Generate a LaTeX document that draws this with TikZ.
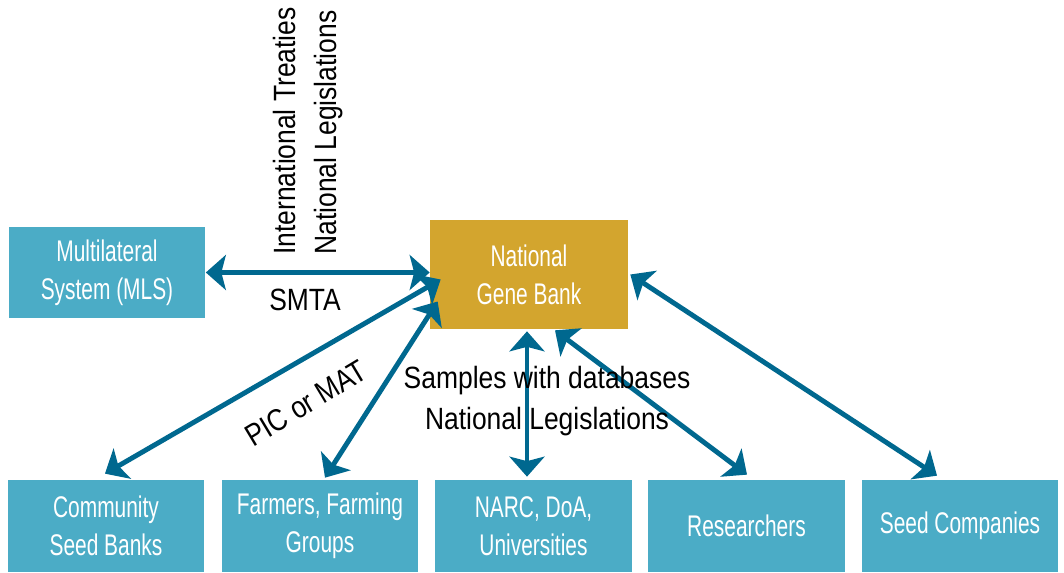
\documentclass[tikz,border=0pt]{standalone}
\usepackage{fontspec}
\setmainfont{Liberation Sans}[FakeStretch=0.86]
\newfontfamily\boxfont{Liberation Sans}[FakeStretch=0.70]
\usetikzlibrary{arrows.meta,positioning,calc}
\definecolor{boxblue}{RGB}{75,172,198}
\definecolor{bankgold}{RGB}{211,165,46}
\definecolor{arrowblue}{RGB}{0,104,143}

\begin{document}
\begin{tikzpicture}[x=0.02cm, y=-0.02cm,
    actor/.style={rectangle, fill=boxblue, text=white, minimum width=3.94cm, minimum height=1.84cm, align=center, inner sep=0pt, font=\boxfont\fontsize{17}{21.6}\selectfont},
    bank/.style={actor, fill=bankgold, minimum width=3.96cm, minimum height=2.18cm},
    link/.style={draw=arrowblue, line width=2.8pt, {Stealth[length=4mm,width=7mm,inset=0.9mm]}-{Stealth[length=4mm,width=7mm,inset=0.9mm]}},
    descr/.style={inner sep=0pt, align=center, font=\fontsize{17.5}{23.8}\selectfont},
    %every node/.style={draw=red},
    ]

\useasboundingbox (0,0) rectangle (1064,573);

% boxes
\node[bank]  (ngb) at (529,274.5) {National\\Gene Bank};
\node[actor] (mls) at (107,272.5) {Multilateral\\System (MLS)};
\node[actor] (csb) at (106,526) {Community\\Seed Banks};
\node[actor] (farmers) at (320,526) {Farmers, Farming\\Groups};
\node[actor] (narc) at (533.5,526) {NARC, DoA,\\Universities};
\node[actor] (researchers) at (746.5,526) {Researchers};
\node[actor] (seedcomp) at (960,526) {Seed Companies};

% connections
\draw[link] (mls.east) -- (mls.east -| ngb.west);
\draw[link] ([shift={(-1,-6)}]csb.north) -- ([shift={(11,5)}]ngb.west);
\draw[link] ([shift={(5,-2)}]farmers.north) -- ([shift={(8,27)}]ngb.west);
\draw[link] ([shift={(-6.5,-3)}]narc.north) -- ([shift={(-2,2)}]ngb.south);
\draw[link] ([shift={(0.5,-5)}]researchers.north) -- ([shift={(26,1)}]ngb.south);
\draw[link] ([shift={(-23,-4)}]seedcomp.north) -- ([shift={(2,0)}]ngb.east);

% labels
\node[descr, rotate=90, anchor=west, align=left] (treaties) at (308,255) {International Treaties\\National Legislations};
\node[descr] (smta) at (305,300) {SMTA};
\node[descr, rotate=31] (picmat) at (306,403) {PIC or MAT};
\node[descr] (samples) at (547,401) {Samples with databases\\National Legislations};

\end{tikzpicture}
\end{document}
